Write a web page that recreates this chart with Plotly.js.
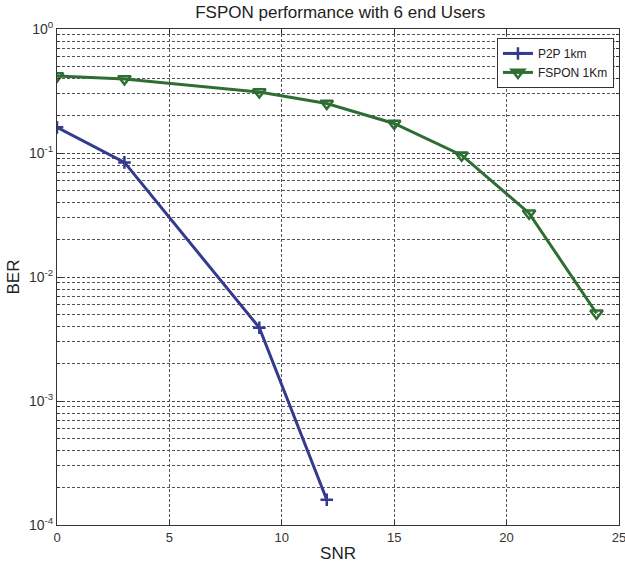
<!DOCTYPE html>
<html>
<head>
<meta charset="utf-8">
<script src="https://cdn.plot.ly/plotly-3.0.1.min.js"></script>
<style>html,body{margin:0;padding:0;background:#fff;}#chart{width:625px;height:566px;}</style>
</head>
<body>
<div id="chart"></div>
<script>
const snrP2P = [0, 3, 9, 12];
const berP2P = [0.161, 0.084, 0.0039, 0.00016];
const snrFSPON = [0, 3, 9, 12, 15, 18, 21, 24];
const berFSPON = [0.417, 0.395, 0.31, 0.251, 0.173, 0.096, 0.0327, 0.0051];
const seriesNames = ["P2P 1km", "FSPON 1Km"];
const xTicks = [0, 5, 10, 15, 20, 25];
const yTickVals = [1, 0.1, 0.01, 0.001, 0.0001];
const yTickText = ["10<sup>0</sup>", "10<sup>-1</sup>", "10<sup>-2</sup>", "10<sup>-3</sup>", "10<sup>-4</sup>"];
const yMinorVals = [];
[0.0001, 0.001, 0.01, 0.1].forEach(d => { for (let k = 2; k <= 9; k++) yMinorVals.push(+(d * k).toPrecision(3)); });

const traces = [
  {x: snrP2P, y: berP2P, name: seriesNames[0], mode: 'lines+markers', type: 'scatter',
   line: {color: '#343a8e', width: 3},
   marker: {symbol: 'cross-thin-open', size: 9, line: {color: '#343a8e', width: 2.5}}},
  {x: snrFSPON, y: berFSPON, name: seriesNames[1], mode: 'lines+markers', type: 'scatter',
   line: {color: '#2e6e33', width: 3},
   marker: {symbol: 'triangle-down-open', size: 11, color: '#2e6e33', line: {color: '#2e6e33', width: 2.5}}}
];

const layout = {
  width: 625, height: 566,
  margin: {l: 57, r: 6, t: 28.5, b: 41},
  paper_bgcolor: '#fff', plot_bgcolor: '#fff',
  font: {family: 'Liberation Sans, Arial, sans-serif', color: '#333'},
  title: {text: 'FSPON performance with 6 end Users', xref: 'paper', x: 0.504, xanchor: 'center',
          yref: 'container', y: 0.99, yanchor: 'top',
          font: {size: 17, color: '#222'}},
  showlegend: true,
  legend: {x: 0.991, xanchor: 'right', y: 0.982, yanchor: 'top', bgcolor: '#fff',
           bordercolor: '#333', borderwidth: 1, font: {size: 12, color: '#222'},
           tracegroupgap: 0, itemwidth: 30},
  xaxis: {range: [-0.001, 25.001], tickvals: xTicks, ticks: 'inside', ticklen: 5, tickcolor: '#333',
          ticklabeloverflow: 'allow',
          showline: true, linecolor: '#333', linewidth: 1, mirror: 'ticks',
          showgrid: true, gridcolor: '#555', griddash: '3px,2px', gridwidth: 1, zeroline: false,
          tickfont: {size: 13, color: '#333'},
          title: {text: 'SNR', font: {size: 17, color: '#222'}, standoff: 3}},
  yaxis: {type: 'log', range: [-4, 0], tickvals: yTickVals, ticktext: yTickText,
          ticks: 'inside', ticklen: 5, tickcolor: '#333',
          showline: true, linecolor: '#333', linewidth: 1, mirror: 'ticks',
          showgrid: true, gridcolor: '#444', griddash: '3px,2px', gridwidth: 1, zeroline: false,
          tickfont: {size: 14, color: '#333'},
          title: {text: 'BER', font: {size: 17, color: '#222'}, standoff: 4},
          minor: {tickvals: yMinorVals, ticks: 'inside', ticklen: 3, tickcolor: '#333',
                  showgrid: true, gridcolor: '#555', griddash: '3px,2px', gridwidth: 1}}
};

Plotly.newPlot('chart', traces, layout, {displayModeBar: false, staticPlot: true});
</script>
</body>
</html>
